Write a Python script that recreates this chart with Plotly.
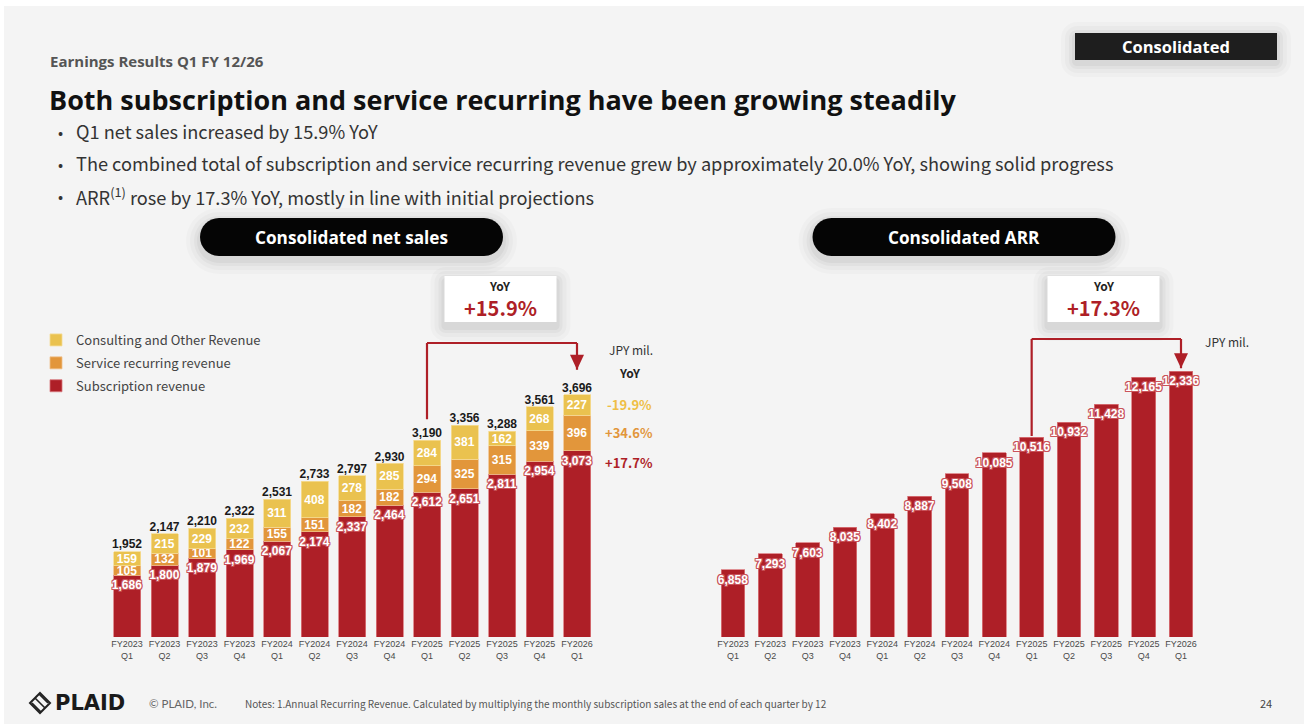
import plotly.graph_objects as go

# ---- data (JPY mil.) ----
quarters = ["FY2023<br>Q1", "FY2023<br>Q2", "FY2023<br>Q3", "FY2023<br>Q4",
            "FY2024<br>Q1", "FY2024<br>Q2", "FY2024<br>Q3", "FY2024<br>Q4",
            "FY2025<br>Q1", "FY2025<br>Q2", "FY2025<br>Q3", "FY2025<br>Q4",
            "FY2026<br>Q1"]
subscription = [1686, 1800, 1879, 1969, 2067, 2174, 2337, 2464, 2612, 2651, 2811, 2954, 3073]
service_recurring = [105, 132, 101, 122, 155, 151, 182, 182, 294, 325, 315, 339, 396]
consulting_other = [159, 215, 229, 232, 311, 408, 278, 285, 284, 381, 162, 268, 227]
net_sales_total = [1952, 2147, 2210, 2322, 2531, 2733, 2797, 2930, 3190, 3356, 3288, 3561, 3696]
arr = [6858, 7293, 7603, 8035, 8402, 8887, 9508, 10085, 10516, 10932, 11428, 12165, 12336]
segment_yoy = {"consulting": "-19.9%", "service": "+34.6%", "subscription": "+17.7%"}
net_sales_yoy = "+15.9%"
arr_yoy = "+17.3%"

# ---- styling ----
W, H = 1304, 724
RED = "#AE1F27"
ORANGE = "#E2963B"
YELLOW = "#EAC24F"
BG = "#F4F4F4"
BAR_FONT = "Liberation Sans, Arial, sans-serif"
JP_FONT = "Noto Sans CJK JP, Noto Sans, sans-serif"
HEAD_FONT = "Open Sans, Lato, sans-serif"

# plot areas (page pixels)
BASE_PX, TOP_PX = 637, 300
L_RANGE = [1000, 4750]
R_RANGE = [5000, 14300]
L_SCALE = (BASE_PX - TOP_PX) / (L_RANGE[1] - L_RANGE[0])
R_SCALE = (BASE_PX - TOP_PX) / (R_RANGE[1] - R_RANGE[0])


def fx(px):
    return px / W


def fy(py):
    return 1 - py / H


def outline(color, w=1):
    parts = []
    for dx in (-w, 0, w):
        for dy in (-w, 0, w):
            if dx or dy:
                parts.append(f"{dx}px {dy}px 0 {color}")
    return ", ".join(parts)


def fmt(v):
    return f"{v:,}"


fig = go.Figure()

# stacked net sales
fig.add_trace(go.Bar(
    x=quarters, y=subscription, name="Subscription revenue",
    marker=dict(color=RED, line=dict(color="#D9777C", width=0.8)),
    text=[fmt(v) for v in subscription], textposition="inside",
    insidetextanchor="end", constraintext="none", textangle=0,
    textfont=dict(family=BAR_FONT, size=12, color="white", weight="bold",
                  shadow=outline("#C9545B")),
    legendgroup="c", legendrank=3, xaxis="x", yaxis="y", hoverinfo="skip",
))
fig.add_trace(go.Bar(
    x=quarters, y=service_recurring, name="Service recurring revenue",
    marker=dict(color=ORANGE, line=dict(color="#F0C08A", width=0.8)),
    text=[str(v) for v in service_recurring], textposition="inside",
    insidetextanchor="middle", constraintext="none", textangle=0,
    textfont=dict(family=BAR_FONT, size=12, color="white", weight="bold"),
    legendgroup="b", legendrank=2, xaxis="x", yaxis="y", hoverinfo="skip",
))
fig.add_trace(go.Bar(
    x=quarters, y=consulting_other, name="Consulting and Other Revenue",
    marker=dict(color=YELLOW, line=dict(color="#F5DC96", width=0.8)),
    text=[str(v) for v in consulting_other], textposition="inside",
    insidetextanchor="middle", constraintext="none", textangle=0,
    textfont=dict(family=BAR_FONT, size=12, color="white", weight="bold"),
    legendgroup="a", legendrank=1, xaxis="x", yaxis="y", hoverinfo="skip",
))
# totals above stacks
fig.add_trace(go.Scatter(
    x=quarters, y=net_sales_total, mode="text",
    text=[fmt(v) for v in net_sales_total], textposition="top center",
    textfont=dict(family=BAR_FONT, size=12, color="#1A1A1A", weight="bold"),
    showlegend=False, xaxis="x", yaxis="y", hoverinfo="skip", cliponaxis=False,
))
# ARR
fig.add_trace(go.Bar(
    x=quarters, y=arr, name="ARR", showlegend=False, width=0.64,
    marker=dict(color=RED, line=dict(color="#D9777C", width=0.8)),
    text=[fmt(v) for v in arr], textposition="inside",
    insidetextanchor="end", constraintext="none", textangle=0,
    textfont=dict(family=BAR_FONT, size=12, color="white", weight="bold",
                  shadow=outline("#C9545B")),
    xaxis="x2", yaxis="y2", hoverinfo="skip",
))

shapes = []
annotations = []


def add_text(x, y, text, size, color, family=JP_FONT, weight="normal",
             xanchor="left", yanchor="middle"):
    annotations.append(dict(
        x=fx(x), y=fy(y), xref="paper", yref="paper", text=text,
        showarrow=False, xanchor=xanchor, yanchor=yanchor,
        font=dict(family=family, size=size, color=color, weight=weight),
    ))


def round_rect(x0, y0, x1, y1, r, fill, opacity=1.0, layer="below"):
    k = 0.5523 * r

    def P(x, y):
        return f"{fx(x):.6f},{fy(y):.6f}"
    path = (f"M{P(x0 + r, y0)} L{P(x1 - r, y0)} "
            f"C{P(x1 - r + k, y0)} {P(x1, y0 + r - k)} {P(x1, y0 + r)} "
            f"L{P(x1, y1 - r)} "
            f"C{P(x1, y1 - r + k)} {P(x1 - r + k, y1)} {P(x1 - r, y1)} "
            f"L{P(x0 + r, y1)} "
            f"C{P(x0 + r - k, y1)} {P(x0, y1 - r + k)} {P(x0, y1 - r)} "
            f"L{P(x0, y0 + r)} "
            f"C{P(x0, y0 + r - k)} {P(x0 + r - k, y0)} {P(x0 + r, y0)} Z")
    shapes.append(dict(type="path", xref="paper", yref="paper", path=path,
                       fillcolor=fill, line=dict(width=0), opacity=opacity,
                       layer=layer))


def soft_shadow(x0, y0, x1, y1, r, dy=4):
    for e, a in ((14, 0.018), (10, 0.022), (6, 0.03), (3, 0.04)):
        round_rect(x0 - e, y0 - e + dy, x1 + e, y1 + e + dy, r + e,
                   f"rgba(0,0,0,{a})")


# slide background
shapes.append(dict(type="rect", xref="paper", yref="paper", x0=fx(4), x1=1,
                   y0=0, y1=fy(6), fillcolor=BG, line=dict(width=0),
                   layer="below"))

# header texts
add_text(48, 61, "Earnings Results Q1 FY 12/26", 15, "#555555",
         family=HEAD_FONT, weight="bold")
add_text(47, 99, "Both subscription and service recurring have been growing steadily",
         27, "#111111", family=HEAD_FONT, weight="bold")
bullets = [
    (131, "Q1 net sales increased by 15.9% YoY"),
    (163, "The combined total of subscription and service recurring revenue grew "
          "by approximately 20.0% YoY, showing solid progress"),
    (196, "ARR<sup>(1)</sup> rose by 17.3% YoY, mostly in line with initial projections"),
]
for yb, txt in bullets:
    add_text(56, yb, "•", 15, "#333333")
    add_text(74, yb, txt, 18.2, "#333333")

# "Consolidated" tag
soft_shadow(1075, 33, 1277, 60, 2, dy=3)
shapes.append(dict(type="rect", xref="paper", yref="paper", x0=fx(1075),
                   x1=fx(1277), y0=fy(60), y1=fy(33), fillcolor="#1E1E1E",
                   line=dict(width=0)))
add_text(1176, 47, "Consolidated", 16.5, "white", family=HEAD_FONT,
         weight="bold", xanchor="center")

# section pills
for cx, label in ((351.5, "Consolidated net sales"), (964, "Consolidated ARR")):
    soft_shadow(cx - 151.5, 218, cx + 151.5, 256, 19)
    round_rect(cx - 151.5, 218, cx + 151.5, 256, 19, "#050505", layer="above")
    add_text(cx, 237, label, 17.2, "white", family=HEAD_FONT, weight="bold",
             xanchor="center")

# YoY callout boxes
for cx, val in ((500.5, net_sales_yoy), (1103.5, arr_yoy)):
    soft_shadow(cx - 56, 276, cx + 56, 322, 1, dy=5)
    shapes.append(dict(type="rect", xref="paper", yref="paper",
                       x0=fx(cx - 56), x1=fx(cx + 56), y0=fy(322), y1=fy(276),
                       fillcolor="white", line=dict(width=0)))
    add_text(cx, 286, "YoY", 12, "#222222", weight="bold", xanchor="center")
    add_text(cx, 307, val, 20, RED, weight="bold", xanchor="center")


# elbow arrows from FY2025 Q1 to FY2026 Q1
def elbow(xref, yref, i0, i1, y_start, y_top, y_tip):
    common = dict(xref=xref, yref=yref, line=dict(color=RED, width=2.2),
                  layer="above")
    shapes.append(dict(type="line", x0=i0, x1=i0, y0=y_start, y1=y_top, **common))
    shapes.append(dict(type="line", x0=i0, x1=i1, y0=y_top, y1=y_top, **common))
    shapes.append(dict(type="line", x0=i1, x1=i1, y0=y_top, y1=y_tip, **common))
    shapes.append(dict(type="path", xref=xref, yref=yref, xsizemode="pixel",
                       ysizemode="pixel", xanchor=i1, yanchor=y_tip,
                       path="M-7,15 L7,15 L0,0 Z", fillcolor=RED,
                       line=dict(width=0), layer="above"))


n = len(quarters) - 1
elbow("x", "y", n - 4, n,
      net_sales_total[n - 4] + 21 / L_SCALE,
      L_RANGE[0] + (BASE_PX - 343) / L_SCALE,
      net_sales_total[n] + 25 / L_SCALE)
elbow("x2", "y2", n - 4, n,
      arr[n - 4] + 1 / R_SCALE,
      R_RANGE[0] + (BASE_PX - 339) / R_SCALE,
      arr[n] + 3 / R_SCALE)

# unit labels and segment YoY column
annotations.append(dict(x=n, y=L_RANGE[0] + (BASE_PX - 350) / L_SCALE,
                        xref="x", yref="y", xshift=54, text="JPY mil.",
                        showarrow=False, font=dict(family=JP_FONT, size=12,
                                                   color="#333333")))
annotations.append(dict(x=n, y=L_RANGE[0] + (BASE_PX - 373) / L_SCALE,
                        xref="x", yref="y", xshift=53, text="YoY",
                        showarrow=False, font=dict(family=JP_FONT, size=12,
                                                   color="#222222", weight="bold")))
seg_mid = [
    (net_sales_total[n] - consulting_other[n] / 2, segment_yoy["consulting"], "#EFBE45"),
    (subscription[n] + service_recurring[n] / 2, segment_yoy["service"], ORANGE),
    (subscription[n] - 12 / L_SCALE, segment_yoy["subscription"], RED),
]
for yv, txt, col in seg_mid:
    annotations.append(dict(x=n, y=yv, xref="x", yref="y", xshift=52, text=txt,
                            showarrow=False,
                            font=dict(family=JP_FONT, size=13, color=col,
                                      weight="bold")))
annotations.append(dict(x=n, y=R_RANGE[0] + (BASE_PX - 342) / R_SCALE,
                        xref="x2", yref="y2", xshift=46, text="JPY mil.",
                        showarrow=False, font=dict(family=JP_FONT, size=12,
                                                   color="#333333")))

# footer
lx, ly = 40, 703
shapes.append(dict(type="path", xref="paper", yref="paper",
                   path=(f"M{fx(lx)},{fy(ly - 10)} L{fx(lx + 10)},{fy(ly)} "
                         f"L{fx(lx)},{fy(ly + 10)} L{fx(lx - 10)},{fy(ly)} Z"),
                   fillcolor="rgba(0,0,0,0)", line=dict(color="#222222", width=2)))
shapes.append(dict(type="path", xref="paper", yref="paper",
                   path=(f"M{fx(lx - 5)},{fy(ly - 5)} L{fx(lx + 5)},{fy(ly + 5)} "
                         f"M{fx(lx - 1)},{fy(ly - 9)} L{fx(lx + 8)},{fy(ly)} "
                         f"M{fx(lx - 8)},{fy(ly)} L{fx(lx + 1)},{fy(ly + 9)}"),
                   line=dict(color="#222222", width=1.6)))
add_text(53, 703, "PLAID", 21, "#1A1A1A", family="DejaVu Sans", weight="bold")
add_text(147, 703, "© PLAID, Inc.", 11.5, "#666666", family="Lato, sans-serif")
add_text(243, 703, "Notes: 1.Annual Recurring Revenue. Calculated by multiplying the "
         "monthly subscription sales at the end of each quarter by 12",
         10, "#555555")
add_text(1274, 703, "24", 11, "#444444", xanchor="right")

axis_common = dict(type="category", showgrid=False, zeroline=False,
                   showline=False, ticks="", fixedrange=True,
                   tickfont=dict(family=BAR_FONT, size=9, color="#4A4A4A"))
yaxis_common = dict(showgrid=False, zeroline=False, showline=False,
                    showticklabels=False, fixedrange=True,
                    domain=[fy(BASE_PX), fy(TOP_PX)])

fig.update_layout(
    width=W, height=H, margin=dict(l=0, r=0, t=0, b=0),
    paper_bgcolor="white", plot_bgcolor="rgba(0,0,0,0)",
    barmode="stack", bargap=0.28,
    xaxis=dict(domain=[fx(127 - 18.75), fx(577 + 18.75)],
               range=[-0.5, 12.5], anchor="y", **axis_common),
    yaxis=dict(range=L_RANGE, anchor="x", **yaxis_common),
    xaxis2=dict(domain=[fx(733 - 18.67), fx(1181 + 18.67)],
                range=[-0.5, 12.5], anchor="y2", **axis_common),
    yaxis2=dict(range=R_RANGE, anchor="x2", **yaxis_common),
    showlegend=True,
    legend=dict(x=fx(36), y=fy(325), xanchor="left", yanchor="top",
                traceorder="grouped", tracegroupgap=3,
                bgcolor="rgba(0,0,0,0)", itemclick=False,
                font=dict(family=JP_FONT, size=13, color="#444444")),
    shapes=shapes, annotations=annotations,
)

fig.write_html("out.html")
